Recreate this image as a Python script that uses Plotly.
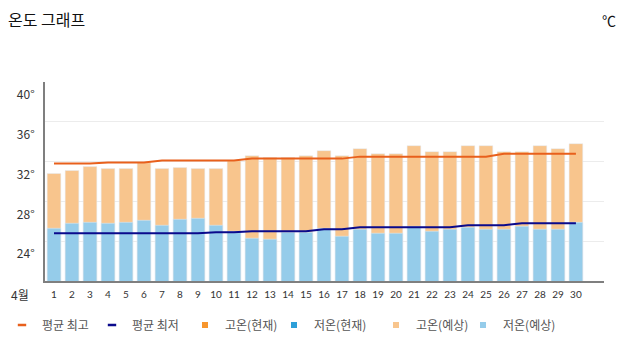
import plotly.graph_objects as go

days = list(range(1, 31))
day_labels = [str(d) for d in days]

high_forecast = [30.8, 31.1, 31.5, 31.3, 31.3, 31.9, 31.3, 31.4, 31.3, 31.3,
                 32.1, 32.6, 32.4, 32.4, 32.6, 33.1, 32.6, 33.3, 32.8, 32.8,
                 33.6, 33.0, 33.0, 33.6, 33.6, 33.0, 33.0, 33.6, 33.3, 33.8]
low_forecast = [25.3, 25.8, 25.9, 25.8, 25.9, 26.1, 25.6, 26.2, 26.3, 25.6,
                25.0, 24.3, 24.2, 24.9, 24.9, 25.3, 24.5, 25.2, 24.8, 24.8,
                25.5, 25.0, 25.2, 25.4, 25.2, 25.2, 25.5, 25.2, 25.2, 25.9]
avg_max = [31.8, 31.8, 31.8, 31.9, 31.9, 31.9, 32.1, 32.1, 32.1, 32.1,
           32.1, 32.3, 32.3, 32.3, 32.3, 32.3, 32.3, 32.5, 32.5, 32.5,
           32.5, 32.5, 32.5, 32.5, 32.5, 32.8, 32.8, 32.8, 32.8, 32.8]
avg_min = [24.8, 24.8, 24.8, 24.8, 24.8, 24.8, 24.8, 24.8, 24.8, 24.9,
           24.9, 25.0, 25.0, 25.0, 25.0, 25.2, 25.2, 25.4, 25.4, 25.4,
           25.4, 25.4, 25.4, 25.6, 25.6, 25.6, 25.8, 25.8, 25.8, 25.8]
high_current = []
low_current = []

y_ticks = [24, 28, 32, 36, 40]
y_tick_text = ["24°", "28°", "32°", "36°", "40°"]

C_AVG_MAX = "#E8601C"
C_AVG_MIN = "#0A0A8C"
C_HIGH_CUR = "#F7962D"
C_LOW_CUR = "#2E9FD8"
C_HIGH_FC = "#F8C58D"
C_LOW_FC = "#95CCEA"

FONT = "Noto Sans CJK KR"

fig = go.Figure()

fig.add_trace(go.Bar(x=days, y=high_forecast, marker_color=C_HIGH_FC, width=0.76,
                     name="고온(예상)", showlegend=False, legendgroup="hf"))
fig.add_trace(go.Bar(x=days, y=low_forecast, marker_color=C_LOW_FC, width=0.76,
                     name="저온(예상)", showlegend=False, legendgroup="lf"))
fig.add_trace(go.Bar(x=days[:len(high_current)], y=high_current, marker_color=C_HIGH_CUR,
                     width=0.76, name="고온(현재)", showlegend=False, legendgroup="hc"))
fig.add_trace(go.Bar(x=days[:len(low_current)], y=low_current, marker_color=C_LOW_CUR,
                     width=0.76, name="저온(현재)", showlegend=False, legendgroup="lc"))
fig.add_trace(go.Scatter(x=days, y=avg_max, mode="lines", line=dict(color=C_AVG_MAX, width=2),
                         name="평균 최고", showlegend=False, legendgroup="am"))
fig.add_trace(go.Scatter(x=days, y=avg_min, mode="lines", line=dict(color=C_AVG_MIN, width=2),
                         name="평균 최저", showlegend=False, legendgroup="an"))

# legend entries (small symbols as in the reference)
legend_items = [
    ("평균 최고", C_AVG_MAX, "line-ew", "am", 45),
    ("평균 최저", C_AVG_MIN, "line-ew", "an", 48),
    ("고온(현재)", C_HIGH_CUR, "square", "hc", 44),
    ("저온(현재)", C_LOW_CUR, "square", "lc", 57),
    ("고온(예상)", C_HIGH_FC, "square", "hf", 42),
    ("저온(예상)", C_LOW_FC, "square", "lf", 58),
]
for name, color, sym, grp, lw in legend_items:
    if sym == "line-ew":
        mk = dict(symbol=sym, size=6, color=color, line=dict(color=color, width=2.5))
    else:
        mk = dict(symbol=sym, size=6, color=color, line=dict(width=0))
    fig.add_trace(go.Scatter(x=[None], y=[None], mode="markers", marker=mk,
                             name=name, legendgroup=grp, showlegend=True, legendwidth=lw))

PL, PR, PT, PB = 45, 21, 82, 71
PW, PH = 625 - PL - PR, 352 - PT - PB

fig.update_layout(
    width=625, height=352,
    margin=dict(l=PL, r=PR, t=PT, b=PB, autoexpand=False),
    paper_bgcolor="white", plot_bgcolor="white",
    barmode="overlay",
    font=dict(family=FONT, color="#333333"),
    title=dict(text="온도 그래프", x=8 / 625, xref="container", xanchor="left",
               y=1 - 20 / 352, yref="container", yanchor="middle",
               font=dict(size=16, color="#111111", family=FONT)),
    xaxis=dict(range=[0.5, 31.56], tickmode="array", tickvals=days, ticktext=day_labels,
               showgrid=False, zeroline=False, showline=True, linecolor="#7f7f7f", linewidth=2,
               ticks="", tickfont=dict(size=10, color="#333333", family="Lato"),
               ticklabelstandoff=3, automargin=False),
    yaxis=dict(range=[20, 40], tickmode="array", tickvals=y_ticks, ticktext=y_tick_text,
               showgrid=True, gridcolor="#ececec", gridwidth=1, zeroline=False,
               showline=True, linecolor="#7f7f7f", linewidth=2, ticks="",
               tickfont=dict(size=12, color="#333333", family=FONT),
               ticklabelshift=13, ticklabelstandoff=6, automargin=False),
    legend=dict(orientation="h", x=(2 - PL) / PW, xref="paper", xanchor="left",
                y=-(325 - (PT + PH)) / PH, yref="paper", yanchor="middle",
                font=dict(size=12, color="#555555", family=FONT),
                itemwidth=30, tracegroupgap=0, bgcolor="rgba(0,0,0,0)"),
    annotations=[
        dict(text="℃", xref="paper", yref="paper", x=(609 - PL) / PW, y=1 + (PT - 20) / PH,
             xanchor="center", yanchor="middle", showarrow=False,
             font=dict(size=14, color="#111111", family=FONT)),
        dict(text="4월", xref="paper", yref="paper", x=(20 - PL) / PW, y=-(294 - PT - PH) / PH,
             xanchor="center", yanchor="middle", showarrow=False,
             font=dict(size=12, color="#333333", family=FONT)),
    ],
)

fig.write_html("out.html")
